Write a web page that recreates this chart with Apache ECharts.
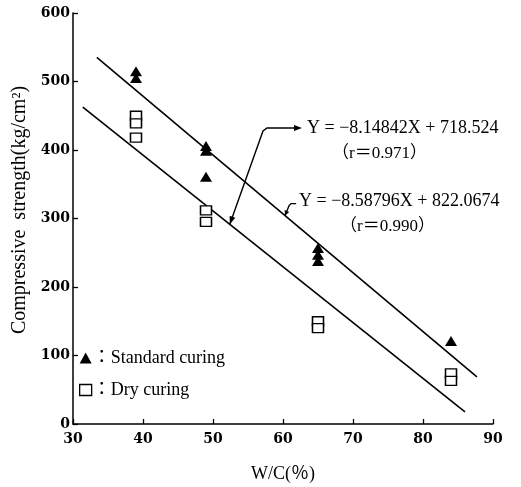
<!DOCTYPE html>
<html><head><meta charset="utf-8">
<script src="https://cdn.jsdelivr.net/npm/echarts@6/dist/echarts.min.js"></script>
<style>html,body{margin:0;padding:0;background:#fff}#c{width:521px;height:487px}</style>
</head><body><div id="c"></div>
<script>
// ---- data ----
const stdX = [39, 39, 49, 49, 49, 65, 65, 65, 84];
const stdY = [515, 505, 406, 399, 361, 257, 247, 238, 121];
const dryX = [39, 39, 39, 49, 49, 65, 65, 84, 84];
const dryY = [450, 439, 418, 312, 295, 150, 140, 74, 63];
const stdFit = {slope: -8.58796, intercept: 822.0674, xRange: [33.4, 87.7], r: 0.990};
const dryFit = {slope: -8.14842, intercept: 718.524, xRange: [31.4, 86.0], r: 0.971};
const xTicks = [30, 40, 50, 60, 70, 80, 90];
const yTicks = [0, 100, 200, 300, 400, 500, 600];
const seriesNames = ['Standard curing', 'Dry curing'];

const serif = '"Liberation Serif", "Noto Sans CJK JP", serif';
const tickFont = '"DejaVu Serif", serif';

function fitLine(f) { return f.xRange.map(x => [x, f.slope * x + f.intercept]); }

const chart = echarts.init(document.getElementById('c'));
chart.setOption({
  animation: false,
  backgroundColor: '#fff',
  grid: {left: 73, right: 28, top: 13, bottom: 63, containLabel: false, outerBoundsMode: 'none'},
  xAxis: {
    type: 'value', min: xTicks[0], max: xTicks[xTicks.length - 1], interval: 10,
    axisLine: {lineStyle: {color: '#000', width: 1.5}},
    axisTick: {inside: true, length: 5, lineStyle: {color: '#000', width: 1.3}},
    axisLabel: {margin: 8, color: '#000', fontFamily: tickFont, fontWeight: 'bold', fontSize: 14},
    splitLine: {show: false},
    name: 'W/C(％)', nameLocation: 'middle', nameGap: 41,
    nameTextStyle: {color: '#000', fontFamily: serif, fontSize: 18}
  },
  yAxis: {
    type: 'value', min: yTicks[0], max: yTicks[yTicks.length - 1], interval: 100,
    axisLine: {show: true, lineStyle: {color: '#000', width: 1.5}},
    axisTick: {show: true, inside: true, length: 5, lineStyle: {color: '#000', width: 1.3}},
    axisLabel: {margin: 3, color: '#000', fontFamily: tickFont, fontWeight: 'bold', fontSize: 14},
    splitLine: {show: false}
  },
  legend: {
    data: [
      {name: seriesNames[0], icon: 'triangle', itemStyle: {color: '#000'}},
      {name: seriesNames[1], icon: 'rect', itemStyle: {color: '#fff', borderColor: '#000', borderWidth: 1.3}}
    ],
    orient: 'vertical', left: 74, top: 344, itemWidth: 12, itemHeight: 11, itemGap: 14,
    formatter: n => '：' + n,
    textStyle: {color: '#000', fontFamily: serif, fontSize: 18, padding: [0,0,0,-4]}
  },
  series: [
    {name: seriesNames[0], type: 'scatter', symbol: 'triangle', symbolSize: [12, 10],
     itemStyle: {color: '#000', opacity: 1}, data: stdX.map((x, i) => [x, stdY[i]]), z: 5},
    {name: seriesNames[1], type: 'scatter', symbol: 'rect', symbolSize: [11, 9],
     itemStyle: {color: '#fff', borderColor: '#000', borderWidth: 1.4, opacity: 1}, data: dryX.map((x, i) => [x, dryY[i]]), z: 5},
    {name: 'fitStd', type: 'line', data: fitLine(stdFit), symbol: 'none',
     lineStyle: {color: '#000', width: 1.6}, z: 3},
    {name: 'fitDry', type: 'line', data: fitLine(dryFit), symbol: 'none',
     lineStyle: {color: '#000', width: 1.6}, z: 3}
  ]
});

// ---- annotations ----
function px(x, y) { return chart.convertToPixel({gridIndex: 0}, [x, y]); }
function arrowHead(tip, from, len, half) {
  const dx = tip[0] - from[0], dy = tip[1] - from[1];
  const L = Math.hypot(dx, dy), ux = dx / L, uy = dy / L;
  const bx = tip[0] - ux * len, by = tip[1] - uy * len;
  return {type: 'polygon', shape: {points: [tip, [bx - uy * half, by + ux * half], [bx + uy * half, by - ux * half]]},
          style: {fill: '#000'}, z: 10};
}
// annotation 1: dry fit (lower line)
const a1X = 52.4;
const t1 = px(a1X, dryFit.slope * a1X + dryFit.intercept);
const c1 = [263, 131], h1 = [302, 128];
// annotation 2: standard fit (upper line)
const a2X = 60.3;
const t2 = px(a2X, stdFit.slope * a2X + stdFit.intercept);
const c2 = [t2[0] + 4, t2[1] - 10], h2 = [t2[0] + 11, t2[1] - 12];

const fmt = v => (v < 0 ? '−' : '') + Math.abs(v);
chart.setOption({
  graphic: [
    {type: 'polyline', shape: {points: [t1, c1, [c1[0] + 4, 128], [h1[0] - 4, 128]]}, style: {stroke: '#000', lineWidth: 1.4, fill: null}, z: 10},
    arrowHead(t1, c1, 8, 3),
    arrowHead(h1, [h1[0] - 10, h1[1]], 8, 3),
    {type: 'polyline', shape: {points: [t2, c2, [c2[0] + 2, c2[1] - 2], h2]}, style: {stroke: '#000', lineWidth: 1.4, fill: null}, z: 10},
    arrowHead(t2, c2, 5, 2.5),
    {type: 'text', x: 307, y: 128, style: {text: 'Y = ' + fmt(dryFit.slope) + 'X + ' + dryFit.intercept, font: '18px ' + serif, fill: '#000', verticalAlign: 'middle', align: 'left'}, z: 10},
    {type: 'text', x: 332, y: 154, style: {text: '（r＝' + dryFit.r.toFixed(3) + '）', font: '17px ' + serif, fill: '#000', verticalAlign: 'middle', align: 'left'}, z: 10},
    {type: 'text', x: 299, y: 201, style: {text: 'Y = ' + fmt(stdFit.slope) + 'X + ' + stdFit.intercept, font: '18px ' + serif, fill: '#000', verticalAlign: 'middle', align: 'left'}, z: 10},
    {type: 'text', x: 340, y: 227, style: {text: '（r＝' + stdFit.r.toFixed(3) + '）', font: '17px ' + serif, fill: '#000', verticalAlign: 'middle', align: 'left'}, z: 10},
    {type: 'text', x: 20, y: 210, rotation: Math.PI / 2, style: {text: 'Compressive  strength(kg/cm²)', font: '20px ' + serif, fill: '#000', align: 'center', verticalAlign: 'middle'}, z: 10}
  ]
});
</script></body></html>
